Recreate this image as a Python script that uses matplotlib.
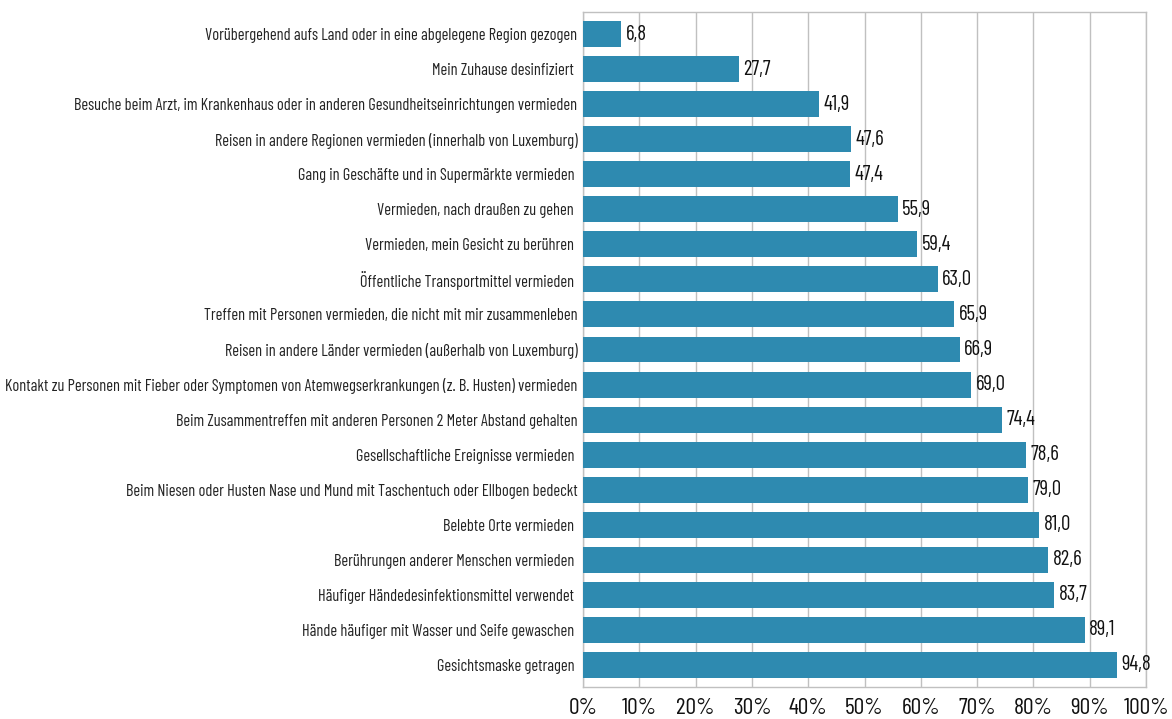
import matplotlib
matplotlib.use("Agg")
import matplotlib.pyplot as plt
from matplotlib.ticker import FuncFormatter

labels = [
    "Vorübergehend aufs Land oder in eine abgelegene Region gezogen",
    "Mein Zuhause desinfiziert ",
    "Besuche beim Arzt, im Krankenhaus oder in anderen Gesundheitseinrichtungen vermieden",
    "Reisen in andere Regionen vermieden (innerhalb von Luxemburg)",
    "Gang in Geschäfte und in Supermärkte vermieden ",
    "Vermieden, nach draußen zu gehen ",
    "Vermieden, mein Gesicht zu berühren ",
    "Öffentliche Transportmittel vermieden ",
    "Treffen mit Personen vermieden, die nicht mit mir zusammenleben",
    "Reisen in andere Länder vermieden (außerhalb von Luxemburg)",
    "Kontakt zu Personen mit Fieber oder Symptomen von Atemwegserkrankungen (z. B. Husten) vermieden",
    "Beim Zusammentreffen mit anderen Personen 2 Meter Abstand gehalten",
    "Gesellschaftliche Ereignisse vermieden ",
    "Beim Niesen oder Husten Nase und Mund mit Taschentuch oder Ellbogen bedeckt",
    "Belebte Orte vermieden ",
    "Berührungen anderer Menschen vermieden ",
    "Häufiger Händedesinfektionsmittel verwendet ",
    "Hände häufiger mit Wasser und Seife gewaschen ",
    "Gesichtsmaske getragen ",
]
values = [6.8, 27.7, 41.9, 47.6, 47.4, 55.9, 59.4, 63.0, 65.9, 66.9,
          69.0, 74.4, 78.6, 79.0, 81.0, 82.6, 83.7, 89.1, 94.8]
xticks = [0, 10, 20, 30, 40, 50, 60, 70, 80, 90, 100]

FONT = ["Barlow Condensed", "DejaVu Sans"]
BAR = "#2e8ab0"
GRID = "#c0c0c0"

fig = plt.figure(figsize=(11.72, 7.19), dpi=100)
ax = fig.add_axes([583 / 1172, 1 - 687 / 719, (1146 - 583) / 1172, (687 - 12) / 719])

pos = list(range(len(values)))
ax.barh(pos, values, height=0.74, color=BAR, zorder=3)
ax.set_xlim(0, 100)
ax.set_ylim(len(values) - 1 + 0.63, -0.63)

ax.set_yticks(pos)
ax.set_yticklabels(labels, fontfamily=FONT, fontsize=11.8, color="#222222")
ax.tick_params(axis="y", length=0, pad=4)

ax.set_xticks(xticks)
ax.xaxis.set_major_formatter(FuncFormatter(lambda v, p: f"{int(v)}%"))
ax.tick_params(axis="x", length=0, pad=8, labelsize=17, labelcolor="#111111")
for t in ax.get_xticklabels():
    t.set_fontfamily(FONT)

ax.grid(axis="x", color=GRID, linewidth=1, zorder=0)
for s in ax.spines.values():
    s.set_color(GRID)
    s.set_linewidth(1)

for i, v in enumerate(values):
    ax.text(v + 0.8, i, f"{v:.1f}".replace(".", ","), va="center", ha="left",
            fontfamily=FONT, fontsize=15, color="#111111", zorder=4)

fig.savefig("out.png", dpi=100)
